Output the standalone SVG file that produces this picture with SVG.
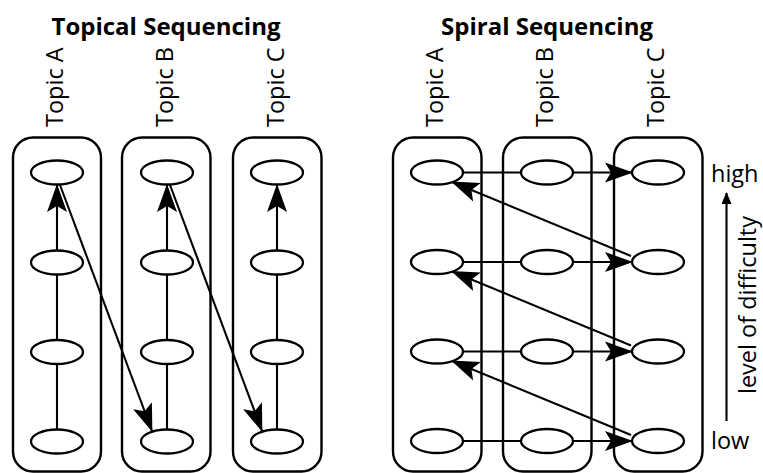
<svg xmlns="http://www.w3.org/2000/svg" width="763" height="473" viewBox="0 0 763 473">
<style>
.box{fill:none;stroke:#000;stroke-width:2.4}
.node{fill:#fff;stroke:#000;stroke-width:2.3}
.ln{fill:none;stroke:#000;stroke-width:2.1}
.t{font-family:"Open Sans","DejaVu Sans",sans-serif;font-size:23.5px;fill:#000}
.title{font-family:"Open Sans","DejaVu Sans",sans-serif;font-size:24px;font-weight:bold;fill:#000}
</style>
<defs>
<marker id="ah" markerUnits="userSpaceOnUse" markerWidth="28" markerHeight="22" viewBox="0 0 28 22" refX="27" refY="11" orient="auto">
<path d="M0,1 L28,11 L0,21 L6,11 Z" fill="#000"/>
</marker>
<marker id="sh" markerUnits="userSpaceOnUse" markerWidth="12" markerHeight="10" viewBox="0 0 12 10" refX="11" refY="5" orient="auto">
<path d="M0,0 L12,5 L0,10 Z" fill="#000"/>
</marker>
</defs>
<rect width="763" height="473" fill="#fff"/>

<!-- titles -->
<text class="title" x="166" y="35" text-anchor="middle">Topical Sequencing</text>
<text class="title" x="547" y="35" text-anchor="middle">Spiral Sequencing</text>

<!-- topic labels -->
<g id="labels-left">
<text class="t" transform="translate(63,127) rotate(-90)">Topic A</text>
<text class="t" transform="translate(173,127) rotate(-90)">Topic B</text>
<text class="t" transform="translate(284,127) rotate(-90)">Topic C</text>
</g>
<g id="labels-right">
<text class="t" transform="translate(443,127) rotate(-90)">Topic A</text>
<text class="t" transform="translate(553,127) rotate(-90)">Topic B</text>
<text class="t" transform="translate(664,127) rotate(-90)">Topic C</text>
</g>

<!-- containers -->
<g id="topical-topicA"><rect class="box" x="13" y="137.5" width="88" height="334" rx="20"/></g>
<g id="topical-topicB"><rect class="box" x="122" y="137.5" width="88.5" height="334" rx="20"/></g>
<g id="topical-topicC"><rect class="box" x="233" y="137.5" width="88.5" height="334" rx="20"/></g>
<g id="spiral-topicA"><rect class="box" x="393" y="137.5" width="88.5" height="334" rx="20"/></g>
<g id="spiral-topicB"><rect class="box" x="503" y="137.5" width="88.5" height="334" rx="20"/></g>
<g id="spiral-topicC"><rect class="box" x="614" y="137.5" width="88.5" height="334" rx="20"/></g>

<!-- connectors -->
<g id="connectors">
<!-- topical verticals -->
<line class="ln" x1="57" y1="430" x2="57" y2="364"/>
<line class="ln" x1="57" y1="340" x2="57" y2="274"/>
<line class="ln" x1="57" y1="251" x2="57" y2="185" marker-end="url(#ah)"/>
<line class="ln" x1="167" y1="430" x2="167" y2="364"/>
<line class="ln" x1="167" y1="340" x2="167" y2="274"/>
<line class="ln" x1="167" y1="251" x2="167" y2="185" marker-end="url(#ah)"/>
<line class="ln" x1="277" y1="430" x2="277" y2="364"/>
<line class="ln" x1="277" y1="340" x2="277" y2="274"/>
<line class="ln" x1="277" y1="251" x2="277" y2="185" marker-end="url(#ah)"/>
<!-- topical diagonals -->
<line class="ln" x1="60" y1="185" x2="152" y2="431" marker-end="url(#ah)"/>
<line class="ln" x1="170" y1="185" x2="262" y2="431" marker-end="url(#ah)"/>
<!-- spiral horizontals -->
<line class="ln" x1="463" y1="172.5" x2="521" y2="172.5"/>
<line class="ln" x1="573" y1="172.5" x2="632" y2="172.5" marker-end="url(#ah)"/>
<line class="ln" x1="463" y1="262" x2="521" y2="262"/>
<line class="ln" x1="573" y1="262" x2="632" y2="262" marker-end="url(#ah)"/>
<line class="ln" x1="463" y1="351.5" x2="521" y2="351.5"/>
<line class="ln" x1="573" y1="351.5" x2="632" y2="351.5" marker-end="url(#ah)"/>
<line class="ln" x1="463" y1="441" x2="521" y2="441"/>
<line class="ln" x1="573" y1="441" x2="632" y2="441" marker-end="url(#ah)"/>
<!-- spiral diagonals -->
<line class="ln" x1="631" y1="256" x2="452" y2="182" marker-end="url(#ah)"/>
<line class="ln" x1="631" y1="345.5" x2="452" y2="271.5" marker-end="url(#ah)"/>
<line class="ln" x1="631" y1="435" x2="452" y2="361" marker-end="url(#ah)"/>
<!-- difficulty arrow -->
<line class="ln" x1="726.5" y1="421" x2="726.5" y2="193" marker-end="url(#sh)"/>
</g>

<!-- topical nodes -->
<g id="tA1"><ellipse class="node" cx="57" cy="172.5" rx="26" ry="12"/></g>
<g id="tA2"><ellipse class="node" cx="57" cy="262.5" rx="26" ry="12"/></g>
<g id="tA3"><ellipse class="node" cx="57" cy="352" rx="26" ry="12"/></g>
<g id="tA4"><ellipse class="node" cx="57" cy="441.5" rx="26" ry="12"/></g>
<g id="tB1"><ellipse class="node" cx="167" cy="172.5" rx="26" ry="12"/></g>
<g id="tB2"><ellipse class="node" cx="167" cy="262.5" rx="26" ry="12"/></g>
<g id="tB3"><ellipse class="node" cx="167" cy="352" rx="26" ry="12"/></g>
<g id="tB4"><ellipse class="node" cx="167" cy="441.5" rx="26" ry="12"/></g>
<g id="tC1"><ellipse class="node" cx="277" cy="172.5" rx="26" ry="12"/></g>
<g id="tC2"><ellipse class="node" cx="277" cy="262.5" rx="26" ry="12"/></g>
<g id="tC3"><ellipse class="node" cx="277" cy="352" rx="26" ry="12"/></g>
<g id="tC4"><ellipse class="node" cx="277" cy="441.5" rx="26" ry="12"/></g>

<!-- spiral nodes -->
<g id="sA1"><ellipse class="node" cx="437" cy="172.5" rx="26" ry="12"/></g>
<g id="sA2"><ellipse class="node" cx="437" cy="262" rx="26" ry="12"/></g>
<g id="sA3"><ellipse class="node" cx="437" cy="351.5" rx="26" ry="12"/></g>
<g id="sA4"><ellipse class="node" cx="437" cy="441" rx="26" ry="12"/></g>
<g id="sB1"><ellipse class="node" cx="547" cy="172.5" rx="26" ry="12"/></g>
<g id="sB2"><ellipse class="node" cx="547" cy="262" rx="26" ry="12"/></g>
<g id="sB3"><ellipse class="node" cx="547" cy="351.5" rx="26" ry="12"/></g>
<g id="sB4"><ellipse class="node" cx="547" cy="441" rx="26" ry="12"/></g>
<g id="sC1"><ellipse class="node" cx="658" cy="172.5" rx="26" ry="12"/></g>
<g id="sC2"><ellipse class="node" cx="658" cy="262" rx="26" ry="12"/></g>
<g id="sC3"><ellipse class="node" cx="658" cy="351.5" rx="26" ry="12"/></g>
<g id="sC4"><ellipse class="node" cx="658" cy="441" rx="26" ry="12"/></g>

<!-- difficulty labels -->
<g id="difficulty">
<text class="t" x="711" y="181.5">high</text>
<text class="t" x="711" y="449">low</text>
<text class="t" text-anchor="middle" transform="translate(756,305) rotate(-90)">level of difficulty</text>
</g>
</svg>
